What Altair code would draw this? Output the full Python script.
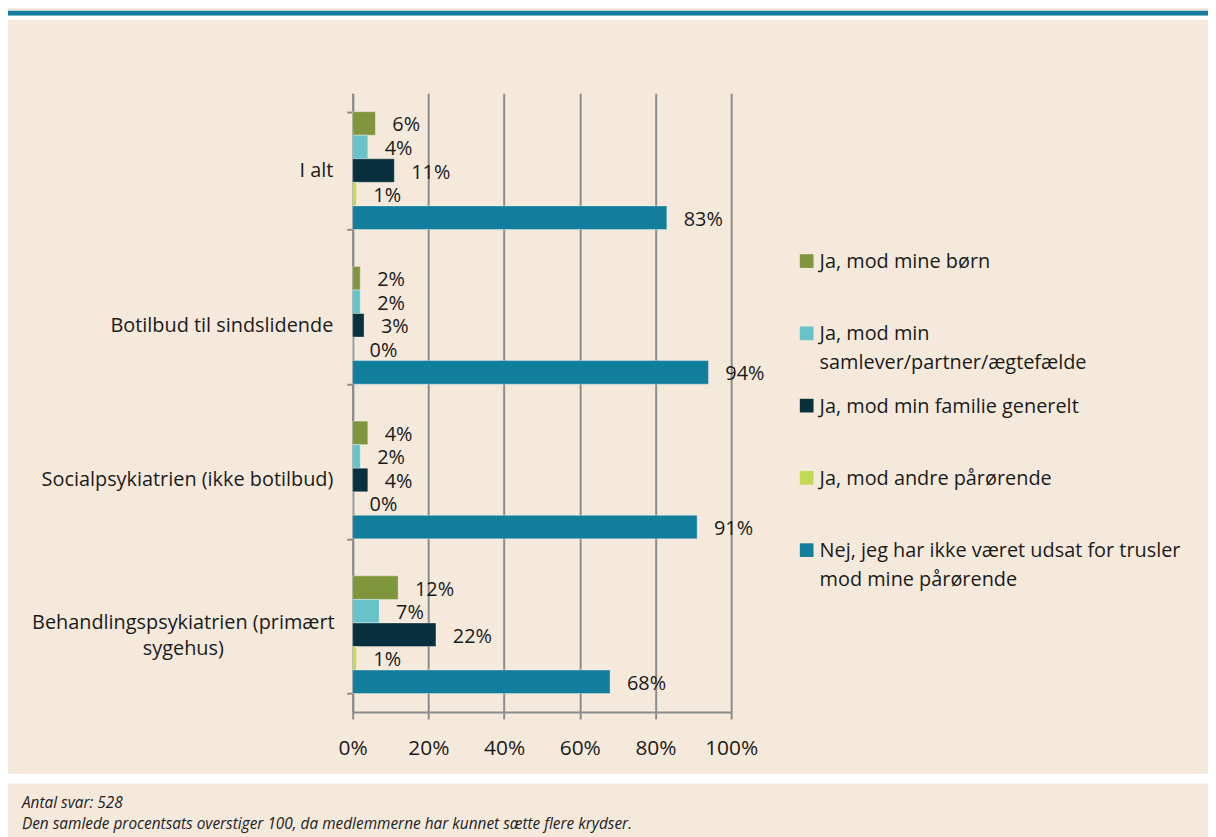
import altair as alt
import pandas as pd

# ---------------- data ----------------
categories = [
    "I alt",
    "Botilbud til sindslidende",
    "Socialpsykiatrien (ikke botilbud)",
    "Behandlingspsykiatrien (primært sygehus)",
]
series = [
    "Ja, mod mine børn",
    "Ja, mod min samlever/partner/ægtefælde",
    "Ja, mod min familie generelt",
    "Ja, mod andre pårørende",
    "Nej, jeg har ikke været udsat for trusler mod mine pårørende",
]
legend_text = [
    "Ja, mod mine børn",
    "Ja, mod min\nsamlever/partner/ægtefælde",
    "Ja, mod min familie generelt",
    "Ja, mod andre pårørende",
    "Nej, jeg har ikke været udsat for trusler\nmod mine pårørende",
]
v_i_alt = [6, 4, 11, 1, 83]
v_botilbud = [2, 2, 3, 0, 94]
v_social = [4, 2, 4, 0, 91]
v_behandling = [12, 7, 22, 1, 68]
colors = ["#80963C", "#67C3C7", "#08313D", "#C1D955", "#117E9B"]
x_ticks = [0, 20, 40, 60, 80, 100]
footer_lines = [
    "Antal svar: 528",
    "Den samlede procentsats overstiger 100, da medlemmerne har kunnet sætte flere krydser.",
]

BG = "#F5E9DC"
TEAL = "#127D9B"
GRAY = "#8C8C8C"
TXT = "#1A1A1A"
FONT = "Open Sans"
W = 1208
PLOT_L, PLOT_R = 347, 728

rows = []
for cat, vals in zip(categories, [v_i_alt, v_botilbud, v_social, v_behandling]):
    for s, v in zip(series, vals):
        rows.append({"category": cat, "series": s, "value": v, "label": f"{v}%"})
df = pd.DataFrame(rows)
leg_df = pd.DataFrame({"series": series, "text": legend_text})

long_cat = categories[3]
test = f"datum.value == '{long_cat}'"
label_expr = (
    f"datum.label == '{long_cat}' ? "
    "['Behandlingspsykiatrien (primært', 'sygehus)'] : datum.label"
)

color_scale = alt.Scale(domain=series, range=colors)

y_enc = alt.Y(
    "category:N",
    sort=categories,
    title=None,
    scale=alt.Scale(paddingInner=0.239, paddingOuter=0.1195),
    axis=alt.Axis(
        labelExpr=label_expr,
        labelFont=FONT,
        labelFontSize=20,
        labelColor=TXT,
        labelLimit=400,
        labelAlign=alt.condition(test, alt.value("center"), alt.value("right")),
        labelPadding=alt.condition(test, alt.value(165), alt.value(14)),
        labelOffset=alt.condition(test, alt.value(-12), alt.value(0)),
        labelLineHeight=26,
        tickBand="extent",
        tickSize=6,
        tickColor=GRAY,
        tickWidth=2,
        domainColor=GRAY,
        domainWidth=2,
        grid=False,
        offset=-PLOT_L,
    ),
)
yoff_enc = alt.YOffset(
    "series:N", sort=series, scale=alt.Scale(paddingInner=0, paddingOuter=0)
)
x_enc = alt.X(
    "value:Q",
    title=None,
    scale=alt.Scale(domain=[0, 100], nice=False, range=[PLOT_L, PLOT_R]),
    axis=alt.Axis(
        values=x_ticks,
        labelExpr="datum.value + '%'",
        labelFont=FONT,
        labelFontSize=21,
        labelColor=TXT,
        labelPadding=19,
        labelFlush=False,
        labelOverlap=False,
        tickSize=7,
        tickColor=GRAY,
        tickWidth=2,
        domainColor=GRAY,
        domainWidth=2,
        grid=True,
        gridColor=GRAY,
        gridWidth=2,
    ),
)

base = alt.Chart(df)
bars = base.mark_bar(stroke="#FFFFFF", strokeOpacity=0.35, strokeWidth=1).encode(
    x=x_enc,
    y=y_enc,
    yOffset=yoff_enc,
    color=alt.Color("series:N", scale=color_scale, legend=None),
)
labels = base.mark_text(
    align="left", baseline="middle", dx=17, dy=2, font=FONT, fontSize=20, color=TXT
).encode(x=alt.X("value:Q"), y=y_enc, yOffset=yoff_enc, text="label:N")

leg_y = alt.Y(
    "series:N", sort=series, axis=None,
    scale=alt.Scale(type="point", range=[169, 460], padding=0),
)
leg_sq = alt.Chart(leg_df).mark_square(size=190, opacity=1).encode(
    x=alt.value(804),
    y=leg_y,
    color=alt.Color("series:N", scale=color_scale, legend=None),
)
leg_tx = alt.Chart(leg_df).mark_text(
    align="left", baseline="middle", lineBreak="\n", lineHeight=29,
    font=FONT, fontSize=20, color=TXT, dy=1,
).encode(x=alt.value(817), y=leg_y, text="text:N")

main = (
    alt.layer(alt.layer(bars, labels), alt.layer(leg_sq, leg_tx))
    .resolve_scale(y="independent")
    .properties(width=W, height=623)
)


def spacer(h, fill=None):
    props = dict(width=W, height=h)
    if fill is not None:
        props["view"] = alt.ViewBackground(fill=fill, strokeWidth=0)
    return (
        alt.Chart(pd.DataFrame({"a": [0]}))
        .mark_rule(opacity=0, strokeWidth=0)
        .encode(x=alt.value(1), y=alt.value(1), y2=alt.value(1))
        .properties(**props)
    )


footer = (
    alt.Chart(pd.DataFrame({"t": ["\n".join(footer_lines)]}))
    .mark_text(
        align="left", baseline="alphabetic", lineBreak="\n", lineHeight=21,
        font=FONT, fontSize=15.5, fontStyle="italic", color="#222222",
    )
    .encode(x=alt.value(14), y=alt.value(25), text="t:N")
    .properties(width=W, height=52)
)

chart = (
    alt.vconcat(
        spacer(5, TEAL),
        spacer(4, "#FFFFFF"),
        spacer(64),
        main,
        spacer(15),
        spacer(10, "#FFFFFF"),
        footer,
        spacing=0,
    )
    .properties(background=BG, padding=0)
    .configure_view(strokeWidth=0)
)

chart.save("out.html", embed_options={"renderer": "svg", "actions": False})
